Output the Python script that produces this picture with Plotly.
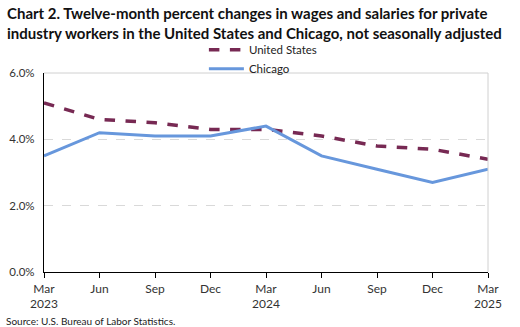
import plotly.graph_objects as go

# Quarter labels (two-line where the year changes)
quarters = ["Mar<br>2023", "Jun", "Sep", "Dec", "Mar<br>2024", "Jun", "Sep", "Dec", "Mar<br>2025"]
us_values = [5.1, 4.6, 4.5, 4.3, 4.3, 4.1, 3.8, 3.7, 3.4]
chicago_values = [3.5, 4.2, 4.1, 4.1, 4.4, 3.5, 3.1, 2.7, 3.1]
y_ticks = [0, 2, 4, 6]
y_tick_text = ["0.0%", "2.0%", "4.0%", "6.0%"]

x_idx = list(range(len(quarters)))
font_family = "Lato, 'Open Sans', sans-serif"

fig = go.Figure()
fig.add_trace(go.Scatter(
    x=x_idx, y=us_values, mode="lines", name="United States",
    line=dict(color="#772953", width=3.5, dash="dash"),
))
fig.add_trace(go.Scatter(
    x=x_idx, y=chicago_values, mode="lines", name="Chicago",
    line=dict(color="#6797dc", width=3),
))

# Light gray frame on top and right of the plot area
fig.add_shape(type="line", xref="paper", yref="paper", x0=0, x1=1, y0=1, y1=1,
              line=dict(color="#d0d0d0", width=1))
fig.add_shape(type="line", xref="paper", yref="paper", x0=1, x1=1, y0=0, y1=1,
              line=dict(color="#d0d0d0", width=1))

fig.update_layout(
    width=520, height=327,
    margin=dict(l=44, r=32, t=73, b=55, autoexpand=False),
    paper_bgcolor="white", plot_bgcolor="white",
    font=dict(family=font_family, size=11, color="#222"),
    legend=dict(
        x=0.493, xanchor="center", y=1.19, yanchor="top",
        orientation="v", font=dict(size=11.5, color="#222"),
        bgcolor="rgba(0,0,0,0)", tracegroupgap=0, itemwidth=35,
    ),
    xaxis=dict(
        tickmode="array", tickvals=x_idx, ticktext=quarters,
        range=[0, len(quarters) - 1],
        showline=True, linecolor="black", linewidth=1.3,
        ticks="outside", ticklen=5, tickcolor="black",
        showgrid=False, zeroline=False,
        tickfont=dict(size=12, color="#333"),
    ),
    yaxis=dict(
        tickmode="array", tickvals=y_ticks, ticktext=y_tick_text,
        range=[0, 6],
        showline=True, linecolor="black", linewidth=1.3,
        showgrid=True, gridcolor="#d9d9d9", griddash="dash", gridwidth=1,
        zeroline=False, ticks="", tickfont=dict(size=11.5, color="#333"),
        ticklabelstandoff=6,
    ),
    annotations=[
        dict(
            text="<b>Chart 2. Twelve-month percent changes in wages and salaries for private<br>"
                 "industry workers in the United States and Chicago, not seasonally adjusted</b>",
            xref="paper", yref="paper", x=-0.088, y=1.355,
            xanchor="left", yanchor="top", align="left", showarrow=False,
            font=dict(family=font_family, size=15, color="#111"),
        ),
        dict(
            text="Source: U.S. Bureau of Labor Statistics.",
            xref="paper", yref="paper", x=-0.09, y=-0.206,
            xanchor="left", yanchor="top", showarrow=False,
            font=dict(size=10, color="#222"),
        ),
    ],
)

fig.write_html("out.html")
